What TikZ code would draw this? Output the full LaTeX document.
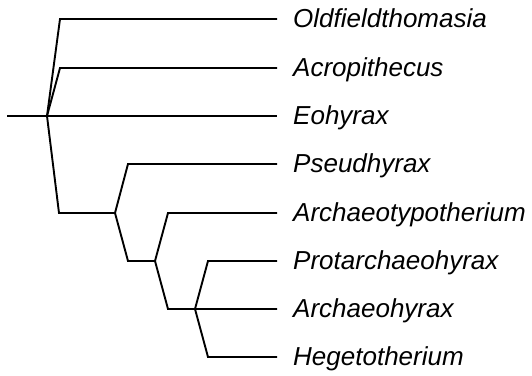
\documentclass[tikz,border=0pt]{standalone}
\usepackage{fontspec}
\setmainfont{Liberation Sans}
\begin{document}
\begin{tikzpicture}[x=1pt,y=-1pt,
  branch/.style={line width=1.9pt,line join=miter,black},
  taxon/.style={anchor=base west,inner sep=0pt,font=\fontsize{26}{28}\selectfont\itshape}]
\useasboundingbox (0,0) rectangle (532,375);
% internal nodes and ends
\coordinate (stub) at (7,116);
\coordinate (root) at (47,116);
\coordinate (o1) at (60,19);   \coordinate (oE) at (277,19);
\coordinate (a1) at (60,68);   \coordinate (aE) at (277,68);
\coordinate (eE) at (277,116);
\coordinate (c1) at (59,213);  \coordinate (n2) at (115,213);
\coordinate (p1) at (128,164); \coordinate (pE) at (277,164);
\coordinate (c2) at (128,261); \coordinate (n3) at (155,261);
\coordinate (t1) at (168,213); \coordinate (tE) at (277,213);
\coordinate (c3) at (168,309); \coordinate (n4) at (195,309);
\coordinate (r1) at (208,261); \coordinate (rE) at (277,261);
\coordinate (hE) at (277,309);
\coordinate (g1) at (208,357); \coordinate (gE) at (277,357);
% branches
\draw[branch] (stub) -- (root) -- (eE);
\draw[branch] (root) -- (o1) -- (oE);
\draw[branch] (root) -- (a1) -- (aE);
\draw[branch] (root) -- (c1) -- (n2);
\draw[branch] (n2) -- (p1) -- (pE);
\draw[branch] (n2) -- (c2) -- (n3);
\draw[branch] (n3) -- (t1) -- (tE);
\draw[branch] (n3) -- (c3) -- (n4) -- (hE);
\draw[branch] (n4) -- (r1) -- (rE);
\draw[branch] (n4) -- (g1) -- (gE);
% labels
\node[taxon] (lo) at (293,27) {Oldfieldthomasia};
\node[taxon] (la) at (293,76) {Acropithecus};
\node[taxon] (le) at (293,124) {Eohyrax};
\node[taxon] (lp) at (293,172) {Pseudhyrax};
\node[taxon] (lt) at (293,221) {Archaeotypotherium};
\node[taxon] (lr) at (293,269) {Protarchaeohyrax};
\node[taxon] (lh) at (293,317) {Archaeohyrax};
\node[taxon] (lg) at (293,365) {Hegetotherium};
\end{tikzpicture}
\end{document}
